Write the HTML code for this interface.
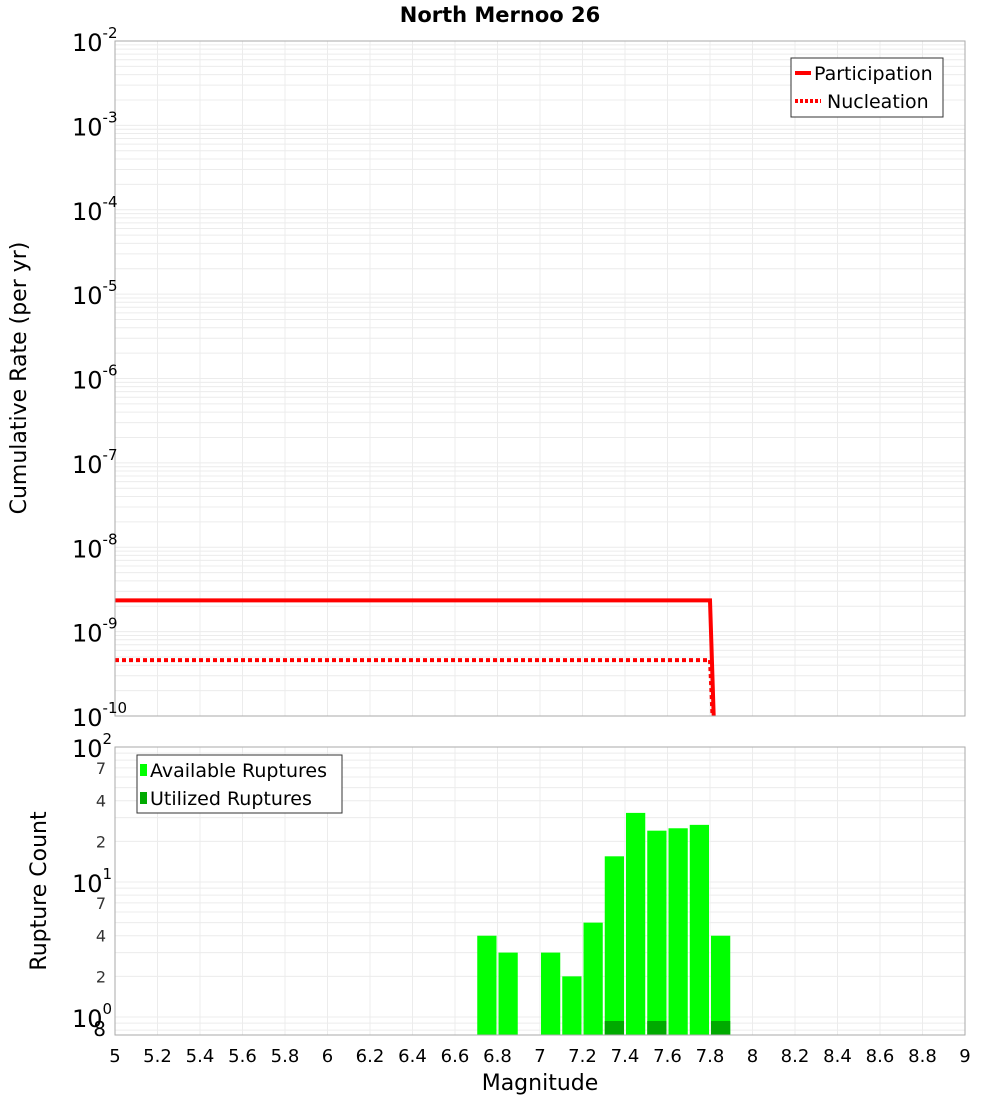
<!DOCTYPE html>
<html><head><meta charset="utf-8"><style>
body{margin:0;background:#fff;font-family:"Liberation Sans","DejaVu Sans",sans-serif}
svg text{font-family:"DejaVu Sans","Liberation Sans",sans-serif}
</style></head><body>
<svg id="c" width="1000" height="1100" xmlns="http://www.w3.org/2000/svg">
<text x="500" y="22" text-anchor="middle" font-size="21" font-weight="bold">North Mernoo 26</text>
<g id="topg"></g>
<g id="botg"></g>
<text transform="translate(26,378) rotate(-90)" text-anchor="middle" font-size="22">Cumulative Rate (per yr)</text>
<text transform="translate(46,891) rotate(-90)" text-anchor="middle" font-size="22">Rupture Count</text>
<text x="540" y="1090" text-anchor="middle" font-size="22">Magnitude</text>
<g id="legends"></g>
</svg>
<script>
const magTicks=[5,5.2,5.4,5.6,5.8,6,6.2,6.4,6.6,6.8,7,7.2,7.4,7.6,7.8,8,8.2,8.4,8.6,8.8,9];
const rateMags=[5,7.8,7.83];
const participation=[2.35e-9,2.35e-9,1e-11];
const nucleation=[4.6e-10,4.6e-10,1e-11];
const binCenters=[6.75,6.85,7.05,7.15,7.25,7.35,7.45,7.55,7.65,7.75,7.85];
const available=[4,3,3,2,5,15.5,32.5,24,25,26.5,4];
const utilizedBins=[7.35,7.55,7.85];
const utilized=[1,1,1];
const NS='http://www.w3.org/2000/svg';
const svgEl=document.getElementById('c');
const X0=115,X1=965;
const xs=m=>X0+(m-5)/4*(X1-X0);
const T0=41,T1=716; const yT=v=>T0+(-2-Math.log10(v))/8*(T1-T0);
const B0=747,BD=135; const yB=v=>B0+(2-Math.log10(v))*BD; const B1=1035;
function mk(tag,attrs,parent){const e=document.createElementNS(NS,tag);for(const k in attrs)e.setAttribute(k,attrs[k]);(parent||svgEl).appendChild(e);return e;}
const topG=document.getElementById('topg'),botG=document.getElementById('botg');
for(let d=-10;d<-2;d++)for(let k=1;k<10;k++){const yy=yT(k*Math.pow(10,d));const g=mk('line',{x1:X0,x2:X1,y1:yy,y2:yy,stroke:'#ececec','stroke-width':1},topG);

}
magTicks.forEach(m=>{const g=mk('line',{x1:xs(m),x2:xs(m),y1:T0,y2:T1,stroke:'#ececec'},topG);


const h=mk('line',{x1:xs(m),x2:xs(m),y1:B0,y2:B1,stroke:'#ececec'},botG);

});
for(let d=-1;d<2;d++)for(let k=1;k<10;k++){const v=k*Math.pow(10,d);const yy=yB(v);if(yy<B0||yy>B1)continue;const g=mk('line',{x1:X0,x2:X1,y1:yy,y2:yy,stroke:'#ececec'},botG);

}
const defs=mk('defs',{});const cp=mk('clipPath',{id:'ct'},defs);mk('rect',{x:X0,y:T0,width:X1-X0,height:T1-T0},cp);
const pp=mk('polyline',{points:rateMags.map((m,i)=>xs(m)+','+yT(participation[i])).join(' '),fill:'none',stroke:'red','stroke-width':4,'clip-path':'url(#ct)'},topG);


const np=mk('polyline',{points:rateMags.map((m,i)=>xs(m)+','+yT(nucleation[i])).join(' '),fill:'none',stroke:'red','stroke-width':4,'stroke-dasharray':'4,3','clip-path':'url(#ct)'},topG);


binCenters.forEach((m,i)=>{const yy=yB(available[i]);const r=mk('rect',{x:xs(m-0.05)+1,y:yy,width:xs(m+0.05)-xs(m-0.05)-2,height:B1-yy,fill:'#00ff00'},botG);

});
utilizedBins.forEach((m,i)=>{const yy=yB(utilized[i])+4;const r=mk('rect',{x:xs(m-0.05)+1,y:yy,width:xs(m+0.05)-xs(m-0.05)-2,height:B1-yy,fill:'#00aa00'},botG);

});
mk('rect',{x:X0,y:T0,width:X1-X0,height:T1-T0,fill:'none',stroke:'#aaa'},topG);
mk('rect',{x:X0,y:B0,width:X1-X0,height:B1-B0,fill:'none',stroke:'#aaa'},botG);
for(let d=-2;d>=-10;d--){const yy=yT(Math.pow(10,d));const t=mk('text',{x:72,y:yy+10,'font-size':24},topG);


t.textContent='10';const s=mk('tspan',{dy:-13,'font-size':15},t);s.textContent=String(d);}
[100,10,1].forEach(v=>{const yy=yB(v);const t=mk('text',{x:72,y:yy+10,'font-size':24},botG);


t.textContent='10';const s=mk('tspan',{dy:-13,'font-size':15},t);s.textContent=String(Math.round(Math.log10(v)));});
[70,40,20,7,4,2,0.8].forEach(v=>{const yy=yB(v);const t=mk('text',{x:106,y:yy+6,'font-size':v<1?20:16,'text-anchor':'end',fill:v<1?'#000':'#333'},botG);


t.textContent=v<1?'8':String(v%10===0?v/10:v);});
magTicks.forEach(m=>{const t=mk('text',{x:xs(m),y:1062,'font-size':18,'text-anchor':'middle'},botG);


t.textContent=String(m);});
const lg=document.getElementById('legends');
lg.innerHTML='<g><rect x="791" y="58" width="152" height="59" fill="#fff" stroke="#333"/><line x1="795" y1="73" x2="811" y2="73" stroke="red" stroke-width="4"/><text x="814" y="80" font-size="19">Participation</text><line x1="795" y1="101" x2="821" y2="101" stroke="red" stroke-width="4" stroke-dasharray="3,2"/><text x="827" y="108" font-size="19">Nucleation</text></g><g><rect x="137" y="755" width="205" height="58" fill="#fff" stroke="#333"/><rect x="140" y="764" width="7" height="12" fill="#00ff00"/><text x="150" y="777" font-size="19">Available Ruptures</text><rect x="140" y="792" width="7" height="12" fill="#00aa00"/><text x="150" y="805" font-size="19">Utilized Ruptures</text></g>';
</script>
</body></html>
